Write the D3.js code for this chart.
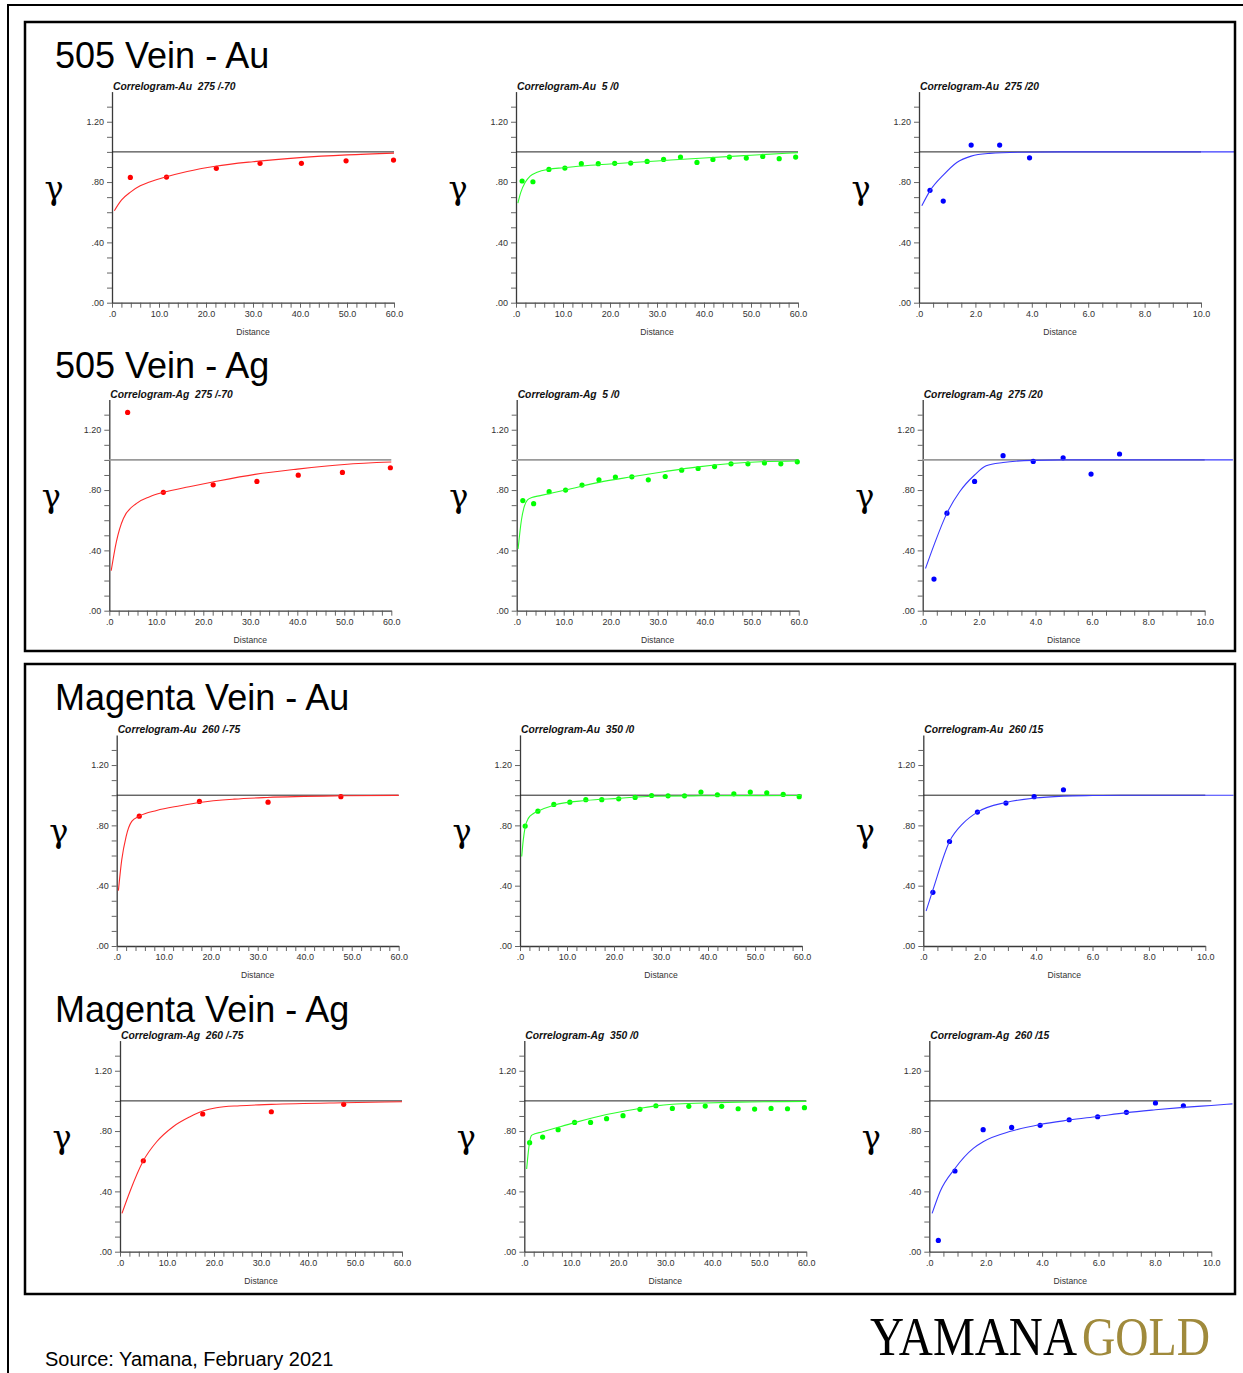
<!DOCTYPE html>
<html>
<head>
<meta charset="utf-8">
<script src="https://cdn.jsdelivr.net/npm/d3@7"></script>
<style>
  body { margin: 0; background: #fff; }
  svg { display: block; }
  text { font-family: "Liberation Sans", Arial, sans-serif; }
</style>
</head>
<body>
<svg id="chart" width="1243" height="1373"></svg>
<script>
// ---------- text ----------
const sectionTitles = ["505 Vein - Au", "505 Vein - Ag", "Magenta Vein - Au", "Magenta Vein - Ag"];
const panelCaptions = [
  ["Correlogram-Au  275 /-70", "Correlogram-Au  5 /0", "Correlogram-Au  275 /20"],
  ["Correlogram-Ag  275 /-70", "Correlogram-Ag  5 /0", "Correlogram-Ag  275 /20"],
  ["Correlogram-Au  260 /-75", "Correlogram-Au  350 /0", "Correlogram-Au  260 /15"],
  ["Correlogram-Ag  260 /-75", "Correlogram-Ag  350 /0", "Correlogram-Ag  260 /15"]
];
const xAxisTitle = "Distance";
const yAxisSymbol = "\u03B3";
const sourceNote = "Source: Yamana, February 2021";
const logoWords = ["YAMANA", "GOLD"];

// ---------- axes ----------
const yTickValues = [0, 0.4, 0.8, 1.2];
const yTickLabels = [".00", ".40", ".80", "1.20"];
const xTickValuesLong = [0, 10, 20, 30, 40, 50, 60];
const xTickLabelsLong = [".0", "10.0", "20.0", "30.0", "40.0", "50.0", "60.0"];
const xTickValuesShort = [0, 2, 4, 6, 8, 10];
const xTickLabelsShort = [".0", "2.0", "4.0", "6.0", "8.0", "10.0"];
const columnMaxLag = [60, 60, 10];
const sill = 1.0;

// ---------- experimental correlogram points [lag, gamma] ----------
const exp505Au_275_m70 = [[3.9,0.831],[11.6,0.833],[22.2,0.891],[31.5,0.924],[40.3,0.924],[49.8,0.941],[59.9,0.946]];
const exp505Au_5_0 = [[1.3,0.807],[3.6,0.802],[7.0,0.884],[10.4,0.893],[13.9,0.922],[17.5,0.922],[21.0,0.924],[24.4,0.926],[27.9,0.937],[31.4,0.950],[35.0,0.966],[38.5,0.930],[41.9,0.950],[45.4,0.966],[49.0,0.959],[52.5,0.970],[56.0,0.955],[59.5,0.966]];
const exp505Au_275_20 = [[0.39,0.745],[0.86,0.674],[1.85,1.045],[2.86,1.045],[3.92,0.961]];

const exp505Ag_275_m70 = [[3.9,1.315],[11.5,0.785],[22.1,0.835],[31.4,0.857],[40.2,0.899],[49.6,0.917],[59.8,0.948]];
const exp505Ag_5_0 = [[1.3,0.730],[3.6,0.710],[6.9,0.789],[10.4,0.800],[13.9,0.833],[17.5,0.868],[21.0,0.886],[24.5,0.888],[28.0,0.868],[31.6,0.890],[35.1,0.932],[38.6,0.943],[42.1,0.956],[45.6,0.974],[49.2,0.974],[52.7,0.980],[56.2,0.974],[59.7,0.987]];
const exp505Ag_275_20 = [[0.4,0.21],[0.86,0.647],[1.84,0.857],[2.85,1.028],[3.92,0.990],[4.98,1.014],[5.97,0.906],[6.98,1.039]];

const expMagAu_260_m75 = [[4.8,0.861],[17.6,0.959],[32.2,0.954],[47.7,0.990]];
const expMagAu_350_0 = [[1.1,0.795],[3.8,0.894],[7.2,0.939],[10.6,0.954],[14.0,0.970],[17.4,0.970],[21.0,0.976],[24.5,0.985],[28.0,0.998],[31.5,0.996],[35.0,0.996],[38.5,1.021],[42.0,1.003],[45.5,1.009],[49.0,1.021],[52.5,1.016],[56.0,1.005],[59.4,0.990]];
const expMagAu_260_15 = [[0.34,0.356],[0.93,0.693],[1.92,0.888],[2.93,0.948],[3.93,0.990],[4.97,1.036]];

const expMagAg_260_m75 = [[4.96,0.603],[17.6,0.913],[32.2,0.928],[47.6,0.977]];
const expMagAg_350_0 = [[1.13,0.723],[3.9,0.760],[7.2,0.809],[10.7,0.857],[14.1,0.857],[17.5,0.882],[21.0,0.902],[24.6,0.944],[28.0,0.968],[31.5,0.950],[35.0,0.964],[38.5,0.966],[42.0,0.964],[45.5,0.948],[49.0,0.946],[52.5,0.950],[56.0,0.948],[59.6,0.955]];
const expMagAg_260_15 = [[0.32,0.075],[0.91,0.535],[1.91,0.809],[2.92,0.824],[3.93,0.838],[4.96,0.875],[5.97,0.895],[6.99,0.924],[8.02,0.986],[9.01,0.968]];

// ---------- fitted models [lag, gamma] ----------
const mod505Au_275_m70 = [[0.5,0.61],[2,0.68],[4,0.735],[6,0.775],[8,0.80],[11.6,0.835],[16,0.87],[22,0.905],[30,0.935],[40,0.962],[50,0.98],[60,0.992]];
const mod505Au_5_0 = [[0.4,0.66],[1,0.73],[2,0.80],[3,0.84],[4.5,0.865],[7,0.885],[10,0.895],[14,0.907],[20,0.92],[30,0.94],[40,0.96],[50,0.978],[60,0.995]];
const mod505Au_275_20 = [[0.1,0.643],[0.4,0.745],[0.86,0.846],[1.34,0.93],[1.85,0.972],[2.5,0.99],[3.5,0.998],[5,1.0],[11.2,1.0]];

const mod505Ag_275_m70 = [[0.4,0.265],[1.5,0.457],[3,0.612],[5.8,0.712],[8.6,0.756],[11.5,0.785],[17,0.822],[22,0.853],[31,0.904],[40,0.939],[50,0.97],[60,0.986]];
const mod505Ag_5_0 = [[0.3,0.41],[1,0.6],[1.6,0.69],[2.3,0.735],[3.2,0.75],[5,0.763],[10.4,0.80],[17.5,0.851],[24.5,0.888],[31.6,0.923],[38.6,0.954],[45.6,0.976],[52,0.988],[59.7,0.993]];
const mod505Ag_275_20 = [[0.1,0.28],[0.4,0.435],[0.86,0.647],[1.31,0.789],[1.84,0.9],[2.25,0.961],[2.85,0.983],[3.9,0.997],[5,1.0],[11,1.0]];

const modMagAu_260_m75 = [[0.36,0.367],[1.07,0.571],[2,0.726],[3.2,0.826],[4.8,0.861],[8.5,0.899],[13.5,0.93],[17.6,0.952],[25,0.974],[32,0.985],[48,0.996],[60,0.999]];
const modMagAu_350_0 = [[0.36,0.593],[0.7,0.704],[1.1,0.788],[1.8,0.848],[2.8,0.877],[3.8,0.894],[7.2,0.934],[14,0.965],[21,0.979],[28,0.993],[38.5,0.996],[60,0.998]];
const modMagAu_260_15 = [[0.1,0.232],[0.34,0.372],[0.93,0.693],[1.42,0.815],[1.92,0.888],[2.93,0.952],[3.93,0.981],[4.97,0.994],[6,0.998],[7,1.0],[11,1.0]];

const modMagAg_260_m75 = [[0.42,0.254],[2.1,0.398],[4.96,0.603],[7.8,0.729],[11.3,0.829],[14.9,0.895],[17.6,0.933],[20.5,0.955],[25.5,0.968],[32.2,0.977],[47.6,0.988],[60,0.994]];
const modMagAg_350_0 = [[0.5,0.548],[0.85,0.66],[1.2,0.74],[1.6,0.773],[3.9,0.795],[7.2,0.825],[10.7,0.856],[17.5,0.91],[24.6,0.95],[28,0.967],[31.5,0.978],[38.5,0.986],[45.5,0.992],[60,0.997]];
const modMagAg_260_15 = [[0.1,0.254],[0.38,0.398],[0.91,0.552],[1.56,0.685],[1.91,0.729],[2.92,0.80],[3.93,0.844],[4.96,0.873],[5.97,0.897],[6.99,0.922],[8.02,0.941],[9.01,0.957],[10,0.97],[10.75,0.98]];

const experimentalRows = [
  [exp505Au_275_m70, exp505Au_5_0, exp505Au_275_20],
  [exp505Ag_275_m70, exp505Ag_5_0, exp505Ag_275_20],
  [expMagAu_260_m75, expMagAu_350_0, expMagAu_260_15],
  [expMagAg_260_m75, expMagAg_350_0, expMagAg_260_15]
];
const modelRows = [
  [mod505Au_275_m70, mod505Au_5_0, mod505Au_275_20],
  [mod505Ag_275_m70, mod505Ag_5_0, mod505Ag_275_20],
  [modMagAu_260_m75, modMagAu_350_0, modMagAu_260_15],
  [modMagAg_260_m75, modMagAg_350_0, modMagAg_260_15]
];

// ---------- styling & layout ----------
const pointColours = ["#ff0000", "#00ff00", "#0000ff"];
const lineColours = ["#ff2a2a", "#2cff2c", "#3a3aff"];
const rowAxisX = [[112, 516, 919], [109.3, 516.7, 922.7], [116.7, 520, 923.3], [120, 524.3, 929.3]];
const rowZeroY = [302.7, 610.7, 946, 1251.7];
const plotWidth = 282;
const pxPerUnit = 150.8;
const titleBaselines = [68, 378, 710, 1022];
const boxes = [{x: 25, y: 22, w: 1210, h: 629}, {x: 25, y: 664, w: 1210, h: 630}];

const svg = d3.select("#chart");
svg.append("rect").attr("width", 1243).attr("height", 1373).attr("fill", "#fff");

// outer page frame (top and left edges)
svg.append("path")
  .attr("d", "M8,1373 L8,5 L1243,5")
  .attr("fill", "none").attr("stroke", "#000").attr("stroke-width", 2);

const defs = svg.append("defs");
boxes.forEach((b, i) => {
  defs.append("clipPath").attr("id", "box-clip-" + i)
    .append("rect").attr("x", b.x).attr("y", b.y).attr("width", b.w - 1).attr("height", b.h);
});

// section headings
sectionTitles.forEach((t, r) => {
  svg.append("text").attr("x", 55).attr("y", titleBaselines[r])
    .attr("font-size", 36).attr("fill", "#000").text(t);
});

const lineGen = d3.line().curve(d3.curveMonotoneX);

function drawPanel(r, c) {
  const ax = rowAxisX[r][c];
  const y0 = rowZeroY[r];
  const maxLag = columnMaxLag[c];
  const x = d3.scaleLinear().domain([0, maxLag]).range([ax, ax + plotWidth]);
  const y = d3.scaleLinear().domain([0, 1.4]).range([y0, y0 - 1.4 * pxPerUnit]);
  const g = svg.append("g");
  const clipped = svg.append("g").attr("clip-path", `url(#box-clip-${r < 2 ? 0 : 1})`);

  const longAxis = maxLag > 10;
  const majorVals = longAxis ? xTickValuesLong : xTickValuesShort;
  const majorLabs = longAxis ? xTickLabelsLong : xTickLabelsShort;
  const minorStep = longAxis ? 2 : 0.5;

  // x axis
  const xAxis = d3.axisBottom(x)
    .tickValues(d3.range(0, maxLag + minorStep / 2, minorStep))
    .tickSize(5).tickSizeOuter(0)
    .tickFormat(d => {
      const i = majorVals.findIndex(v => Math.abs(v - d) < 1e-6);
      return i >= 0 ? majorLabs[i] : "";
    });
  const gx = g.append("g").attr("transform", `translate(0,${y0})`).call(xAxis);

  // y axis
  const yAxis = d3.axisLeft(y)
    .tickValues(d3.range(0, 1.35, 0.1))
    .tickSize(5).tickSizeOuter(0)
    .tickFormat(d => {
      const i = yTickValues.findIndex(v => Math.abs(v - d) < 1e-6);
      return i >= 0 ? yTickLabels[i] : "";
    });
  const gy = g.append("g").attr("transform", `translate(${ax},0)`).call(yAxis);

  [gx, gy].forEach(a => {
    a.select(".domain").attr("stroke", "#3a3a3a").attr("stroke-width", 1.3);
    a.selectAll(".tick line").attr("stroke", "#555").attr("stroke-width", 0.9);
    a.selectAll(".tick text").attr("fill", "#333").attr("font-size", 9)
      .attr("font-family", "'Liberation Sans', Arial, sans-serif");
  });
  gy.selectAll(".tick text").attr("x", -8);
  gx.selectAll(".tick text").attr("y", 8);

  // sill reference
  g.append("line")
    .attr("x1", x(0)).attr("x2", x(maxLag))
    .attr("y1", y(sill)).attr("y2", y(sill))
    .attr("stroke", r === 1 ? "#9a9a9a" : "#222")
    .attr("stroke-width", r === 1 ? 1.8 : 1);

  // fitted model
  clipped.append("path")
    .datum(modelRows[r][c])
    .attr("d", lineGen.x(d => x(d[0])).y(d => y(d[1])))
    .attr("fill", "none").attr("stroke", lineColours[c]).attr("stroke-width", 1.1);

  // experimental points
  g.selectAll(null).data(experimentalRows[r][c]).enter().append("circle")
    .attr("cx", d => x(d[0])).attr("cy", d => y(d[1])).attr("r", 2.6)
    .attr("fill", pointColours[c]);

  // labels
  g.append("text").attr("x", ax + 1).attr("y", y(1.4) - 2)
    .attr("font-size", 10.3).attr("font-weight", "bold").attr("font-style", "italic")
    .style("white-space", "pre").attr("fill", "#111").text(panelCaptions[r][c]);
  g.append("text").attr("x", ax + plotWidth / 2).attr("y", y0 + 32)
    .attr("text-anchor", "middle").attr("font-size", 8.6).attr("fill", "#333").text(xAxisTitle);
  g.append("text").attr("x", ax - 58).attr("y", y0 - 104)
    .attr("text-anchor", "middle").attr("font-size", 32)
    .style("font-family", "'DejaVu Serif', 'Liberation Serif', serif")
    .attr("fill", "#000").text(yAxisSymbol);
}

for (let r = 0; r < 4; r++) for (let c = 0; c < 3; c++) drawPanel(r, c);

// framing boxes
boxes.forEach(b => {
  svg.append("rect").attr("x", b.x).attr("y", b.y).attr("width", b.w).attr("height", b.h)
    .attr("fill", "none").attr("stroke", "#000").attr("stroke-width", 2.5);
});

// footer
svg.append("text").attr("x", 45).attr("y", 1366).attr("font-size", 20).attr("fill", "#000").text(sourceNote);

// condensed serif word mark, each word squeezed horizontally into its slot
function wordMark(word, left, width, colour) {
  const holder = svg.append("g");
  const t = holder.append("text").attr("x", 0).attr("y", 0)
    .style("font-family", "'Liberation Serif', 'Times New Roman', serif")
    .attr("font-size", 54).attr("fill", colour).text(word);
  const natural = t.node().getComputedTextLength();
  holder.attr("transform", `translate(${left},1355) scale(${width / natural},1)`);
}
wordMark(logoWords[0], 870, 207, "#000");
wordMark(logoWords[1], 1082, 128, "#a08a3c");
</script>
</body>
</html>
